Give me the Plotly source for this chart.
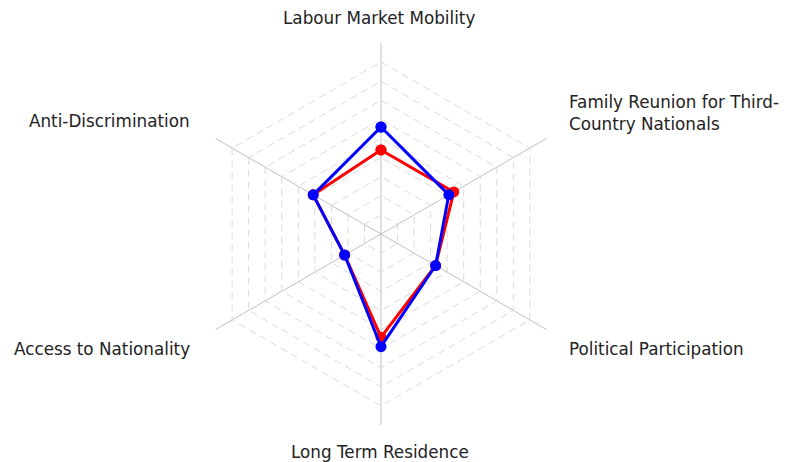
import plotly.graph_objects as go

categories = ["Labour Market Mobility", "Family Reunion for Third-Country Nationals",
              "Political Participation", "Long Term Residence",
              "Access to Nationality", "Anti-Discrimination"]
label_text = ["Labour Market Mobility", "Family Reunion for Third-<br>Country Nationals",
              "Political Participation", "Long Term Residence",
              "Access to Nationality", "Anti-Discrimination"]
series_red = [44, 44, 33, 54, 22, 41]
series_blue = [56, 41, 33, 59, 22, 41]
series_names = ["Series A", "Series B"]

# the page body adds an 8px margin, so the figure is sized to fit the window
OFF = 8
W, H = 787 - OFF, 462 - OFF

def closed(v):
    return v + v[:1]

fig = go.Figure()
fig.add_trace(go.Scatterpolar(
    r=closed(series_red), theta=closed(categories), name=series_names[0],
    mode="lines+markers", line=dict(color="#ff0000", width=3),
    marker=dict(color="#ff0000", size=11)))
fig.add_trace(go.Scatterpolar(
    r=closed(series_blue), theta=closed(categories), name=series_names[1],
    mode="lines+markers", line=dict(color="#0000ff", width=3),
    marker=dict(color="#0000ff", size=11)))

# label placement (screen pixel positions): x, y, xanchor, yanchor, align
label_pos = [
    (379, 18, "center", "middle", "center"),
    (567, 113, "left", "middle", "left"),
    (567, 349, "left", "middle", "left"),
    (380, 452, "center", "middle", "center"),
    (192, 349, "right", "middle", "right"),
    (192, 121, "right", "middle", "right"),
]
annotations = []
for txt, (px, py, xa, ya, al) in zip(label_text, label_pos):
    annotations.append(dict(
        text=txt, x=(px - OFF) / W, y=1 - (py - OFF) / H, xref="paper", yref="paper",
        xanchor=xa, yanchor=ya, align=al, showarrow=False,
        font=dict(family="DejaVu Sans, Verdana, sans-serif", size=16.8, color="#222222")))

cx, cy, R = 381 - OFF, 234 - OFF, 191
fig.update_layout(
    width=W, height=H,
    margin=dict(l=0, r=0, t=0, b=0),
    paper_bgcolor="white", plot_bgcolor="white",
    showlegend=False,
    annotations=annotations,
    polar=dict(
        domain=dict(x=[(cx - R) / W, (cx + R) / W], y=[1 - (cy + R) / H, 1 - (cy - R) / H]),
        gridshape="linear",
        bgcolor="white",
        angularaxis=dict(direction="clockwise", rotation=90, showline=False,
                         showticklabels=False, ticks="",
                         gridcolor="#c0c0c0", gridwidth=1),
        radialaxis=dict(range=[0, 100], dtick=10, showticklabels=False, ticks="",
                        showline=False, gridcolor="#d9d9d9", griddash="7px,5px", gridwidth=1),
    ),
)
fig.write_html("out.html")
